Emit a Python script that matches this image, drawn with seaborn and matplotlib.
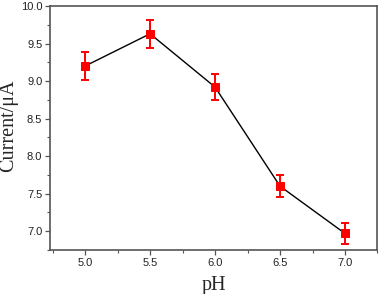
import matplotlib
matplotlib.use("Agg")
import matplotlib.pyplot as plt
import seaborn as sns
import pandas as pd
from matplotlib.ticker import MultipleLocator

# pH dependence of the peak current
ph = [5.0, 5.5, 6.0, 6.5, 7.0]
current = [9.20, 9.63, 8.92, 7.60, 6.97]
err = [0.19, 0.19, 0.17, 0.15, 0.14]

df = pd.DataFrame({"pH": ph, "Current": current, "err": err})

sns.set_style("ticks")
fig = plt.figure(figsize=(3.8, 2.94), dpi=100)
ax = fig.add_axes([0.1316, 0.1497, 0.8618, 0.8299])

sns.lineplot(data=df, x="pH", y="Current", ax=ax, color="black", linewidth=1.0,
             marker="s", markersize=6, markerfacecolor="#ff0000",
             markeredgecolor="#ff0000", zorder=2)
ax.errorbar(df["pH"], df["Current"], yerr=df["err"], fmt="none",
            ecolor="#ff0000", elinewidth=1.4, capsize=3, capthick=1.4, zorder=3)

ax.set_xlim(4.73, 7.25)
ax.set_ylim(6.75, 10.0)
ax.xaxis.set_major_locator(MultipleLocator(0.5))
ax.xaxis.set_minor_locator(MultipleLocator(0.25))
ax.yaxis.set_major_locator(MultipleLocator(0.5))
ax.yaxis.set_minor_locator(MultipleLocator(0.25))
ax.xaxis.set_major_formatter(plt.FormatStrFormatter("%.1f"))
ax.yaxis.set_major_formatter(plt.FormatStrFormatter("%.1f"))

for s in ax.spines.values():
    s.set_color("#555555")
    s.set_linewidth(1.2)
ax.tick_params(which="major", direction="out", length=3.5, width=0.9,
               color="#555555", labelsize=8, labelcolor="#222222", pad=2)
ax.tick_params(which="minor", direction="out", length=2, width=0.8, color="#555555")
for lab in ax.get_xticklabels() + ax.get_yticklabels():
    lab.set_family("Liberation Sans")

ax.set_xlabel("pH", family="Liberation Serif", fontsize=14.5, labelpad=6)
ax.set_ylabel("Current/μA", family="Liberation Serif", fontsize=14.5)
ax.yaxis.set_label_coords(-0.098, 0.51)

fig.savefig("out.png", dpi=100)
